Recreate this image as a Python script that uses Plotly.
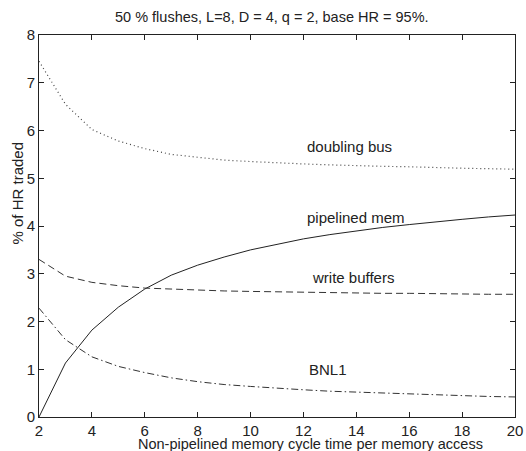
import plotly.graph_objects as go

x_vals = list(range(2, 21))
doubling_bus = [7.45, 6.55, 6.02, 5.78, 5.62, 5.50, 5.44, 5.38, 5.35, 5.32, 5.30, 5.28, 5.26, 5.25, 5.24, 5.22, 5.21, 5.20, 5.19]
pipelined_mem = [0.0, 1.13, 1.82, 2.30, 2.68, 2.97, 3.18, 3.35, 3.50, 3.62, 3.73, 3.82, 3.90, 3.97, 4.03, 4.09, 4.14, 4.19, 4.23]
write_buffers = [3.30, 2.95, 2.82, 2.75, 2.70, 2.68, 2.65, 2.64, 2.63, 2.62, 2.61, 2.60, 2.60, 2.59, 2.59, 2.58, 2.58, 2.57, 2.57]
bnl1 = [2.28, 1.62, 1.26, 1.06, 0.93, 0.82, 0.74, 0.68, 0.64, 0.60, 0.57, 0.54, 0.52, 0.50, 0.48, 0.46, 0.45, 0.43, 0.42]

x_ticks = [2, 4, 6, 8, 10, 12, 14, 16, 18, 20]
y_ticks = [0, 1, 2, 3, 4, 5, 6, 7, 8]

labels = ["doubling bus", "pipelined mem", "write buffers", "BNL1"]
label_x = [12.05, 12.05, 12.25, 12.15]
label_y = [5.66, 4.17, 2.93, 0.99]

FONT = "Liberation Sans, Arial, Helvetica, sans-serif"
TXT = "#222"

fig = go.Figure()
fig.add_trace(go.Scatter(x=x_vals, y=doubling_bus, mode="lines",
                         line=dict(color="#444", width=1.2, dash="1px,3px")))
fig.add_trace(go.Scatter(x=x_vals, y=pipelined_mem, mode="lines",
                         line=dict(color="#222", width=1)))
fig.add_trace(go.Scatter(x=x_vals, y=write_buffers, mode="lines",
                         line=dict(color="#333", width=1, dash="7px,4px")))
fig.add_trace(go.Scatter(x=x_vals, y=bnl1, mode="lines",
                         line=dict(color="#333", width=1, dash="7px,3px,1.5px,3px")))

for t, lx, ly in zip(labels, label_x, label_y):
    fig.add_annotation(x=lx, y=ly, text=t, showarrow=False, xanchor="left",
                       yanchor="middle", font=dict(family=FONT, size=15, color=TXT))

fig.add_annotation(xref="paper", yref="paper", x=0.49, y=1.0, yshift=18,
                   text="50 % flushes, L=8, D = 4, q = 2, base HR = 95%.",
                   showarrow=False, xanchor="center", yanchor="middle",
                   font=dict(family=FONT, size=14.5, color=TXT))
fig.add_annotation(xref="paper", yref="paper", x=0.571, y=0.0, yshift=-17,
                   text="Non-pipelined memory cycle time per memory access",
                   showarrow=False, xanchor="center", yanchor="top",
                   font=dict(family=FONT, size=14.5, color=TXT))
fig.add_annotation(xref="paper", yref="paper", x=0.0, xshift=-21, y=0.585,
                   text="% of HR traded", textangle=-90,
                   showarrow=False, xanchor="center", yanchor="middle",
                   font=dict(family=FONT, size=15, color=TXT))

axis_common = dict(showgrid=False, zeroline=False, showline=True, linecolor="#222",
                   linewidth=1, mirror="allticks", ticks="inside", ticklen=5,
                   tickcolor="#222", tickwidth=1, automargin=False,
                   tickfont=dict(family=FONT, size=15, color=TXT))

fig.update_xaxes(range=[2, 20], tickvals=x_ticks, ticktext=[str(v) for v in x_ticks], **axis_common)
fig.update_yaxes(range=[0, 8], tickvals=y_ticks, ticktext=[str(v) for v in y_ticks], **axis_common)

fig.update_layout(width=526, height=451, showlegend=False,
                  margin=dict(l=39, r=11, t=35, b=34),
                  plot_bgcolor="white", paper_bgcolor="white",
                  font=dict(family=FONT, color=TXT))

fig.write_html("out.html")
